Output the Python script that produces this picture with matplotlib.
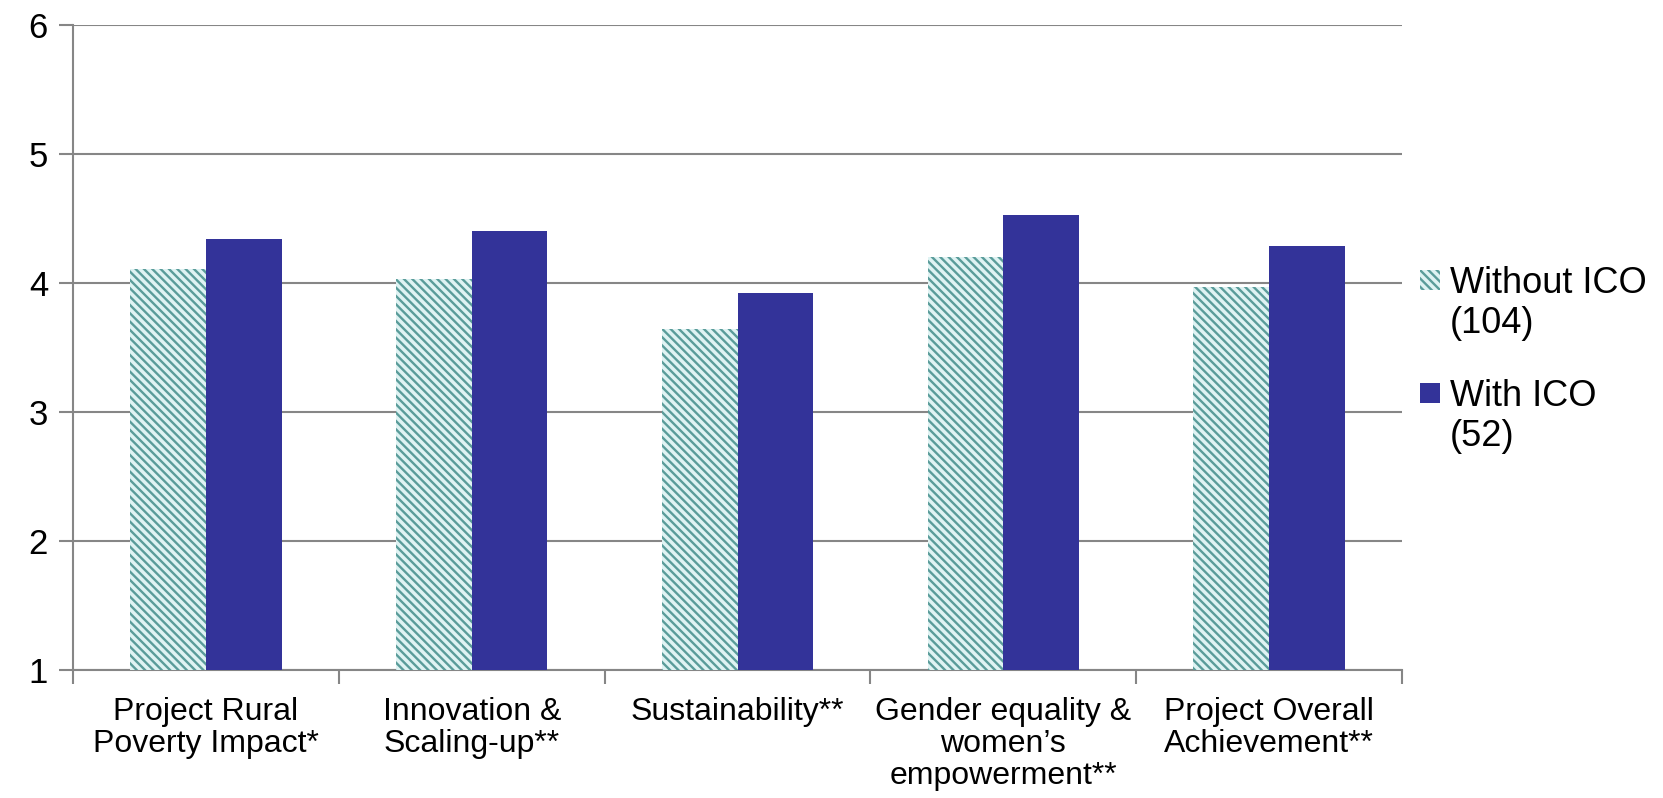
import matplotlib
matplotlib.use("Agg")
import matplotlib.pyplot as plt
import numpy as np
from matplotlib.patches import Rectangle

plt.rcParams['font.family'] = ['Liberation Sans', 'DejaVu Sans']
plt.rcParams['hatch.linewidth'] = 1.7
plt.rcParams['hatch.color'] = '#5a9c9a'

categories = ["Project Rural\nPoverty Impact*", "Innovation &\nScaling-up**", "Sustainability**",
              "Gender equality &\nwomen’s\nempowerment**", "Project Overall\nAchievement**"]
without_ico = [4.11, 4.03, 3.64, 4.20, 3.97]
with_ico = [4.34, 4.40, 3.92, 4.53, 4.29]
series_labels = ["Without ICO\n(104)", "With ICO\n(52)"]
yticks = [1, 2, 3, 4, 5, 6]

W, H = 1663, 798
fig = plt.figure(figsize=(W/100, H/100), dpi=100)
ax = fig.add_axes([73/W, 1-670/H, (1402-73)/W, (670-25)/H])

HATCH = '\\' * 4
x = np.arange(len(categories))
bw = 0.285
grid_c = '#868686'
ax.bar(x - bw/2, np.array(without_ico) - 1, bw, bottom=1, facecolor='#dff3f3',
       hatch=HATCH, edgecolor='#5a9c9a', linewidth=0, zorder=3)
ax.bar(x + bw/2, np.array(with_ico) - 1, bw, bottom=1, color='#333399', linewidth=0, zorder=3)

ax.set_xlim(-0.5, len(categories) - 0.5)
ax.set_ylim(1, 6)
ax.set_yticks(yticks)
ax.set_yticklabels([str(t) for t in yticks], fontsize=25)
ax.yaxis.grid(True, color=grid_c, linewidth=1.5, zorder=0)
ax.set_axisbelow(True)
ax.set_xticks(np.arange(-0.5, len(categories)), minor=False)
ax.set_xticklabels([])
ax.tick_params(axis='x', direction='out', length=10, width=1.5, color=grid_c)
ax.tick_params(axis='y', direction='out', length=10, width=1.5, color=grid_c, pad=8)
for s in ['top', 'right']:
    ax.spines[s].set_visible(False)
for s in ['left', 'bottom']:
    ax.spines[s].set_color(grid_c)
    ax.spines[s].set_linewidth(1.5)

for xi, lab in zip(x, categories):
    ax.text(xi, -0.042, lab, transform=ax.get_xaxis_transform(), ha='center', va='top',
            fontsize=23, linespacing=1.08)

# legend
hx = 1420
for i, (lab, y0) in enumerate(zip(series_labels, [280, 393])):
    if i == 0:
        r = Rectangle((hx/W, 1-(y0+10)/H), 20/W, 20/H, transform=fig.transFigure,
                      facecolor='#dff3f3', hatch=HATCH, edgecolor='#5a9c9a', linewidth=0)
    else:
        r = Rectangle((hx/W, 1-(y0+10)/H), 20/W, 20/H, transform=fig.transFigure,
                      facecolor='#333399', linewidth=0)
    fig.patches.append(r)
    fig.text(1450/W, 1-(y0-14)/H, lab, ha='left', va='top', fontsize=26, linespacing=1.2)

fig.savefig("out.png", dpi=100)
